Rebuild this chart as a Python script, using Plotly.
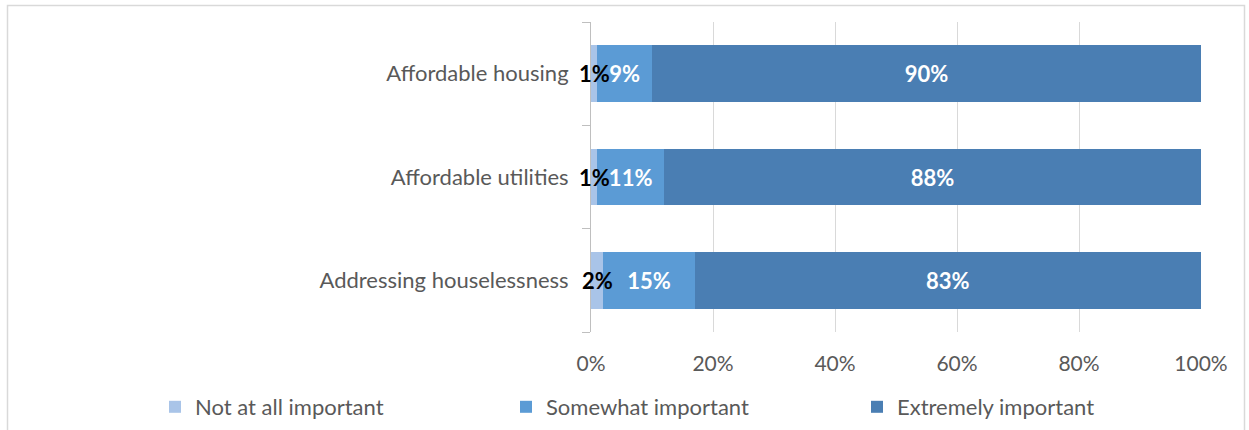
import plotly.graph_objects as go

# Survey results: importance of housing-related priorities (percent of respondents)
categories = ["Affordable housing", "Affordable utilities", "Addressing houselessness"]
not_at_all = [1, 1, 2]
somewhat = [9, 11, 15]
extremely = [90, 88, 83]
series_names = ["Not at all important", "Somewhat important", "Extremely important"]
x_ticks = [0, 20, 40, 60, 80, 100]
x_tick_labels = ["0%", "20%", "40%", "60%", "80%", "100%"]

colors = ["#a9c4e8", "#5b9bd5", "#4a7eb3"]
FONT = "Lato"
GREY = "#595959"
W, H = 1249, 430
ML, MR, MT, MB = 591, 48, 22, 98
plot_w = W - ML - MR
plot_h = H - MT - MB


def px_to_paper_x(px):
    return (px - ML) / plot_w


def px_to_paper_y(py):
    return (H - MB - py) / plot_h


fig = go.Figure()
for name, vals, col, txtcol in zip(series_names, [not_at_all, somewhat, extremely],
                                   colors, ["black", "white", "white"]):
    show_text = txtcol == "white"
    fig.add_trace(go.Bar(
        y=categories, x=vals, name=name, orientation="h",
        marker=dict(color=col, line=dict(width=0)),
        text=[f"{v}%" for v in vals] if show_text else None,
        textposition="inside" if show_text else "none",
        insidetextanchor="middle", textangle=0, constraintext="none",
        textfont=dict(family=FONT, size=22, color=txtcol, weight="bold"),
        hoverinfo="skip",
    ))

# Labels for the thin first segment, centred on the segment
for cat, v in zip(categories, not_at_all):
    fig.add_annotation(x=v / 2, y=cat, text=f"{v}%", showarrow=False,
                       font=dict(family=FONT, size=22, color="black", weight="bold"),
                       xanchor="center", yanchor="middle")

# Outer chart frame
fig.add_shape(type="rect", xref="paper", yref="paper",
              x0=px_to_paper_x(7.5), x1=px_to_paper_x(1244.5),
              y0=px_to_paper_y(460), y1=px_to_paper_y(5.5),
              line=dict(color="#d9d9d9", width=1.5), fillcolor="rgba(0,0,0,0)",
              layer="below")

fig.update_layout(
    width=W, height=H,
    margin=dict(l=ML, r=MR, t=MT, b=MB, autoexpand=False),
    barmode="stack", bargap=0.45,
    plot_bgcolor="white", paper_bgcolor="white",
    font=dict(family=FONT, size=22, color=GREY),
    xaxis=dict(range=[0, 100], tickvals=x_ticks, ticktext=x_tick_labels,
               showgrid=True, gridcolor="#d9d9d9", gridwidth=1,
               zeroline=False, showline=False, ticks="",
               tickfont=dict(family=FONT, size=21, color=GREY),
               ticklabelstandoff=17, fixedrange=True),
    yaxis=dict(categoryorder="array", categoryarray=categories[::-1],
               showline=True, linecolor="#bfbfbf", linewidth=1,
               ticks="outside", ticklen=8, tickcolor="#bfbfbf", tickson="boundaries",
               showgrid=False, tickfont=dict(family=FONT, size=22, color=GREY),
               ticklabelstandoff=17, fixedrange=True),
    legend=dict(orientation="h", x=px_to_paper_x(155), xanchor="left",
                y=px_to_paper_y(407), yanchor="middle",
                entrywidth=306, entrywidthmode="pixels",
                font=dict(family=FONT, size=22, color=GREY),
                traceorder="normal", itemclick=False, itemdoubleclick=False),
    showlegend=True,
)

fig.write_html("out.html")
